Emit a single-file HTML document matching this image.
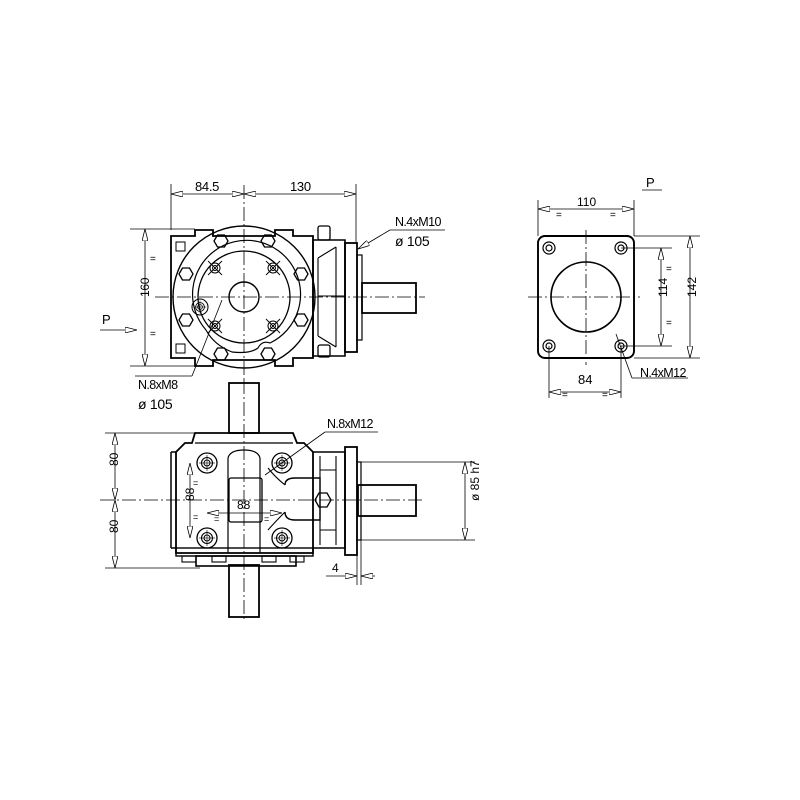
<!DOCTYPE html>
<html><head><meta charset="utf-8"><style>html,body{margin:0;padding:0;background:#fff}svg{display:block}</style></head><body>
<svg width="800" height="800" viewBox="0 0 800 800" xmlns="http://www.w3.org/2000/svg" font-family="Liberation Sans, sans-serif" font-size="13" fill="none" stroke="#000" stroke-width="1.5">
<defs>
<marker id="a" viewBox="0 0 12 6" refX="12" refY="3" markerWidth="12" markerHeight="6" orient="auto-start-reverse" markerUnits="userSpaceOnUse"><path d="M0,0 L12,3 L0,6 Z" fill="#fff" stroke="#000" stroke-width="0.8"/></marker>
<g id="hx"><polygon points="-7,0 -3.5,-6 3.5,-6 7,0 3.5,6 -3.5,6" stroke-width="1.3"/></g>
<g id="bo"><circle r="10" stroke-width="1.3"/><circle r="5.5" stroke-width="1.1"/><circle r="3" stroke-width="1"/><line x1="-8" y1="0" x2="8" y2="0" stroke-width="0.6"/><line x1="0" y1="-8" x2="0" y2="8" stroke-width="0.6"/></g>
<g id="xb"><circle r="5" stroke-width="1"/><line x1="-7" y1="-7" x2="7" y2="7" stroke-width="0.9"/><line x1="-7" y1="7" x2="7" y2="-7" stroke-width="0.9"/><circle r="2.5" stroke-width="0.9"/></g>
</defs>

<!-- ================= TOP VIEW ================= -->
<g stroke-width="0.8" stroke-dasharray="14,3,2,3">
<line x1="244" y1="185" x2="244" y2="380"/>
<line x1="155" y1="297" x2="425" y2="297"/>
</g>
<path d="M171,236 H195 V230 H213 V236 H275 V230 H293 V236 H313 V358 H293 V366 H275 V360 H213 V366 H195 V358 H171 Z" stroke-width="1.8"/>
<rect x="176" y="242" width="9" height="9" stroke-width="1"/>
<rect x="176" y="344" width="9" height="9" stroke-width="1"/>
<circle cx="244" cy="297" r="71" stroke-width="1.4"/>
<path d="M206,330 A54,54 0 1 1 270,343 Q262,340 258,348 Q250,354 232,352 Q214,345 206,330" stroke-width="1.2"/>
<circle cx="244" cy="297" r="46" stroke-width="1.3"/>
<circle cx="244" cy="297" r="15" stroke-width="1.4"/>
<use href="#hx" x="221" y="241"/><use href="#hx" x="268" y="241"/>
<use href="#hx" x="186" y="274"/><use href="#hx" x="301" y="274"/>
<use href="#hx" x="186" y="320"/><use href="#hx" x="301" y="320"/>
<use href="#hx" x="221" y="354"/><use href="#hx" x="268" y="354"/>
<use href="#xb" x="215" y="268"/><use href="#xb" x="273" y="268"/>
<use href="#xb" x="215" y="326"/><use href="#xb" x="273" y="326"/>
<use href="#bo" x="200" y="307" transform="translate(40,61.4) scale(0.8)"/>
<path d="M313,240 H345 V356 H313 Z" stroke-width="1.6"/>
<path d="M318,258 L336,247 M318,336 L336,347 M318,258 V336 M336,247 V347" stroke-width="1.1"/>
<line x1="318" y1="296" x2="345" y2="296" stroke-width="0.9"/>
<rect x="345" y="243" width="12" height="109" stroke-width="1.8"/>
<rect x="357" y="255" width="5" height="85" stroke-width="1.2"/>
<rect x="318" y="226" width="12" height="14" rx="2" stroke-width="1.3"/>
<rect x="318" y="345" width="12" height="12" rx="2" stroke-width="1.3"/>
<rect x="362" y="283" width="54" height="30" stroke-width="1.8"/>
<g stroke-width="0.8">
<line x1="171" y1="184" x2="171" y2="230"/>
<line x1="356" y1="184" x2="356" y2="242"/>
<line x1="171" y1="194" x2="244" y2="194" marker-start="url(#a)" marker-end="url(#a)"/>
<line x1="244" y1="194" x2="356" y2="194" marker-start="url(#a)" marker-end="url(#a)"/>
<line x1="130" y1="229" x2="195" y2="229"/>
<line x1="130" y1="366" x2="195" y2="366"/>
<line x1="145" y1="229" x2="145" y2="366" marker-start="url(#a)" marker-end="url(#a)"/>
<line x1="358" y1="249" x2="390" y2="230" marker-start="url(#a)"/>
<line x1="390" y1="230" x2="445" y2="230"/>
<line x1="100" y1="330" x2="137" y2="330" marker-end="url(#a)"/>
<line x1="222" y1="300" x2="192" y2="376"/>
<line x1="135" y1="376" x2="192" y2="376"/>
</g>
<g fill="#000" stroke="none" letter-spacing="-0.3">
<text x="195" y="191" font-size="13">84.5</text>
<text x="290" y="191" font-size="13">130</text>
<text x="395" y="226" font-size="12.5" letter-spacing="-0.6">N.4xM10</text>
<text x="395" y="246" font-size="14">ø 105</text>
<text x="140" y="306" font-size="12" transform="rotate(-90 140 297)">160</text>
<text x="150" y="262" font-size="10">=</text>
<text x="150" y="337" font-size="10">=</text>
<text x="102" y="324" font-size="13">P</text>
<text x="138" y="389" font-size="12.5" letter-spacing="-0.6">N.8xM8</text>
<text x="138" y="409" font-size="14">ø 105</text>
</g>

<!-- ================= BOTTOM VIEW ================= -->
<g stroke-width="0.8" stroke-dasharray="14,3,2,3">
<line x1="244" y1="380" x2="244" y2="622"/>
<line x1="100" y1="500" x2="425" y2="500"/>
</g>
<rect x="229" y="383" width="30" height="50" stroke-width="1.8"/>
<rect x="229" y="565" width="30" height="52" stroke-width="1.8"/>
<path d="M195,433 H293 L297,443 H304 L313,452 V553 H176 V452 L185,443 H192 Z" stroke-width="1.8"/>
<line x1="195" y1="443" x2="293" y2="443" stroke-width="1.2"/>
<line x1="171" y1="452" x2="171" y2="548" stroke-width="1.5"/>
<line x1="171" y1="452" x2="176" y2="452"/><line x1="171" y1="548" x2="176" y2="548"/>
<rect x="176" y="548" width="137" height="8" stroke-width="1.4"/>
<rect x="196" y="556" width="100" height="10" stroke-width="1.6"/>
<g stroke-width="1.1"><rect x="182" y="556" width="14" height="6"/><rect x="212" y="556" width="14" height="6"/><rect x="262" y="556" width="14" height="6"/><rect x="290" y="556" width="14" height="6"/></g>
<path d="M228,458 Q230,450 244,450 Q258,450 260,458 V553 M228,458 V553" stroke-width="1.2"/>
<rect x="229" y="478" width="33" height="44" rx="2" stroke-width="1.3"/>
<path d="M285,485 Q285,478 295,478 H320 V520 H295 Q285,520 285,512" stroke-width="1.4"/>
<path d="M285,485 Q275,477 268,468 M285,512 Q275,522 268,530" stroke-width="1.1"/>
<polygon points="315,500 319,493 327,493 331,500 327,507 319,507" stroke-width="1.3"/>
<use href="#bo" x="207" y="463"/><use href="#bo" x="282" y="463"/>
<use href="#bo" x="207" y="538"/><use href="#bo" x="282" y="538"/>
<path d="M313,452 H345 V548 H313" stroke-width="1.6"/>
<path d="M320,456 V545 M336,456 V545 M320,470 H336 M320,530 H336" stroke-width="1.1"/>
<rect x="345" y="447" width="12" height="108" stroke-width="1.8"/>
<rect x="357" y="462" width="4" height="78" stroke-width="1.2"/>
<rect x="358" y="485" width="58" height="31" stroke-width="1.8"/>
<g stroke-width="0.8">
<line x1="105" y1="433" x2="200" y2="433"/>
<line x1="105" y1="568" x2="200" y2="568"/>
<line x1="115" y1="433" x2="115" y2="500" marker-start="url(#a)" marker-end="url(#a)"/>
<line x1="115" y1="500" x2="115" y2="568" marker-start="url(#a)" marker-end="url(#a)"/>
<line x1="190" y1="463" x2="190" y2="538" marker-start="url(#a)" marker-end="url(#a)"/>
<line x1="207" y1="513" x2="282" y2="513" marker-start="url(#a)" marker-end="url(#a)"/>
<line x1="265" y1="475" x2="325" y2="432"/>
<line x1="325" y1="432" x2="378" y2="432"/>
<line x1="360" y1="462" x2="475" y2="462"/>
<line x1="360" y1="540" x2="475" y2="540"/>
<line x1="465" y1="462" x2="465" y2="540" marker-start="url(#a)" marker-end="url(#a)"/>
<line x1="357" y1="555" x2="357" y2="585"/>
<line x1="361" y1="540" x2="361" y2="585"/>
<line x1="326" y1="576" x2="357" y2="576" marker-end="url(#a)"/>
<line x1="361" y1="576" x2="375" y2="576" marker-start="url(#a)"/>
</g>
<g fill="#000" stroke="none">
<text x="110" y="474" font-size="12" transform="rotate(-90 110 466)">80</text>
<text x="110" y="541" font-size="12" transform="rotate(-90 110 533)">80</text>
<text x="186" y="509" font-size="12" transform="rotate(-90 186 501)">88</text>
<text x="237" y="509" font-size="12">88</text>
<text x="327" y="428" font-size="12.5" letter-spacing="-0.6">N.8xM12</text>
<text x="332" y="572" font-size="12">4</text>
<text x="460" y="520" font-size="12" transform="rotate(-90 460 501)">ø 85 h7</text>
<text x="193" y="486" font-size="9">=</text><text x="193" y="520" font-size="9">=</text>
<text x="214" y="522" font-size="9">=</text><text x="264" y="522" font-size="9">=</text>
</g>

<!-- ================= SIDE VIEW ================= -->
<g stroke-width="0.8" stroke-dasharray="14,3,2,3">
<line x1="586" y1="230" x2="586" y2="365"/>
<line x1="528" y1="297" x2="640" y2="297"/>
</g>
<rect x="538" y="236" width="96" height="122" rx="7" stroke-width="1.9"/>
<circle cx="586" cy="297" r="35" stroke-width="1.6"/>
<g stroke-width="1.2"><circle cx="549" cy="248" r="6"/><circle cx="549" cy="248" r="3"/>
<circle cx="621" cy="248" r="6"/><circle cx="621" cy="248" r="3"/>
<circle cx="549" cy="346" r="6"/><circle cx="549" cy="346" r="3"/>
<circle cx="621" cy="346" r="6"/><circle cx="621" cy="346" r="3"/></g>
<g stroke-width="0.8">
<line x1="538" y1="200" x2="538" y2="236"/><line x1="634" y1="200" x2="634" y2="236"/>
<line x1="538" y1="209" x2="634" y2="209" marker-start="url(#a)" marker-end="url(#a)"/>
<line x1="634" y1="236" x2="700" y2="236"/><line x1="634" y1="358" x2="700" y2="358"/>
<line x1="690" y1="236" x2="690" y2="358" marker-start="url(#a)" marker-end="url(#a)"/>
<line x1="621" y1="248" x2="672" y2="248"/><line x1="621" y1="346" x2="672" y2="346"/>
<line x1="661" y1="248" x2="661" y2="346" marker-start="url(#a)" marker-end="url(#a)"/>
<line x1="549" y1="346" x2="549" y2="398"/><line x1="621" y1="346" x2="621" y2="398"/>
<line x1="549" y1="392" x2="621" y2="392" marker-start="url(#a)" marker-end="url(#a)"/>
<line x1="616" y1="334" x2="632" y2="378"/><line x1="632" y1="378" x2="688" y2="378"/>
<line x1="642" y1="190" x2="662" y2="190"/>
</g>
<g fill="#000" stroke="none">
<text x="577" y="206" font-size="12">110</text>
<text x="556" y="218" font-size="10">=</text><text x="610" y="218" font-size="10">=</text>
<text x="646" y="187" font-size="13">P</text>
<text x="658" y="306" font-size="12" transform="rotate(-90 658 297)">114</text>
<text x="687" y="306" font-size="12" transform="rotate(-90 687 297)">142</text>
<text x="666" y="272" font-size="10">=</text><text x="666" y="326" font-size="10">=</text>
<text x="578" y="384" font-size="13">84</text>
<text x="562" y="398" font-size="10">=</text><text x="602" y="398" font-size="10">=</text>
<text x="640" y="377" font-size="12.5" letter-spacing="-0.6">N.4xM12</text>
</g>
</svg>
</body></html>
